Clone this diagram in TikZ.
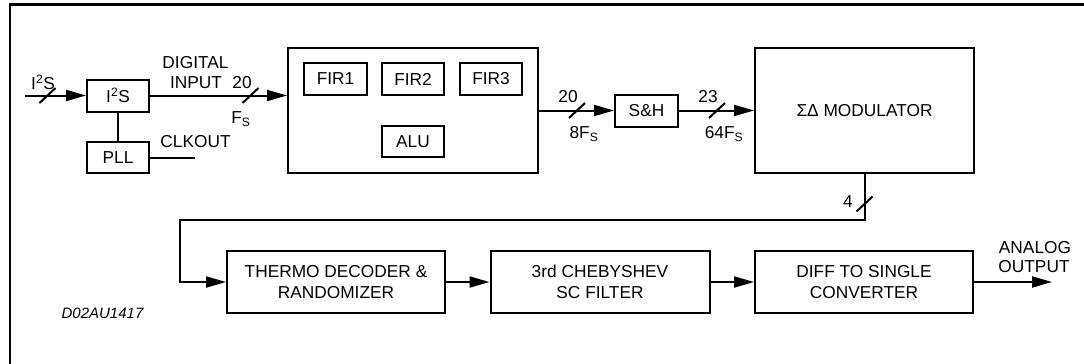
\documentclass[tikz,border=0pt]{standalone}
\usepackage{fontspec}
\setmainfont{Liberation Sans}
\usetikzlibrary{arrows.meta}
\begin{document}
\begin{tikzpicture}[x=1pt,y=-1pt,
  every node/.style={font=\fontsize{17.3}{21}\selectfont, inner sep=0pt},
  blk/.style={draw, line width=2pt, minimum width=#1, align=center},
  conn/.style={line width=2pt},
  arr/.style={conn, -{Triangle[length=20pt,width=11pt]}},
  lbl/.style={anchor=center}
]
\useasboundingbox (0,0) rectangle (1084,364);
% frame (top and left edges only)
\draw[line width=2.5pt] (10,364) -- (10,4.3) -- (1084,4.3);

% top row blocks
\node[blk=62pt, minimum height=32pt] (i2s) at (118,95.5) {I\textsuperscript{2}S};
\node[blk=62pt, minimum height=31pt] (pll) at (118,157.5) {PLL};
\node[blk=250pt, minimum height=125pt] (fir) at (413,110.5) {};
\node[blk=63pt, minimum height=32pt] (fir1) at (335.5,79) {FIR1};
\node[blk=62pt, minimum height=32pt] (fir2) at (413,79) {FIR2};
\node[blk=62pt, minimum height=32pt] (fir3) at (491,79) {FIR3};
\node[blk=62pt, minimum height=31pt] (alu) at (413,141.5) {ALU};
\node[blk=63pt, minimum height=32pt] (sh) at (646.5,110.5) {S\&H};
\node[blk=219pt, minimum height=125pt] (mod) at (864.5,110.5) {ΣΔ MODULATOR};

% bottom row blocks
\node[blk=218pt, minimum height=62pt] (thermo) at (336,282) {THERMO DECODER \&\\RANDOMIZER};
\node[blk=219pt, minimum height=62pt] (cheb) at (600,282) {3rd CHEBYSHEV\\SC FILTER};
\node[blk=218pt, minimum height=62pt] (diff) at (864,282) {DIFF TO SINGLE\\CONVERTER};

% free ends / bends
\coordinate (in) at (25,95.5);
\coordinate (clk) at (195,157.5);
\coordinate (lx) at (180,220);
\coordinate (out) at (1052,282);

% connectors
\draw[arr] (in) -- (i2s.west);
\draw[arr] (i2s.east) -- (i2s.east -| fir.west);
\draw[conn] (i2s.south) -- (pll.north);
\draw[conn] (pll.east) -- (clk);
\draw[arr] (fir.east) -- (sh.west);
\draw[arr] (sh.east) -- (mod.west);
\draw[arr] (mod.south) |- (lx) |- (thermo.west);
\draw[arr] (thermo.east) -- (cheb.west);
\draw[arr] (cheb.east) -- (diff.west);
\draw[arr] (diff.east) -- (out);

% bus slashes
\coordinate (s1) at (47.5,95.5);
\coordinate (s2) at (250.5,95.5);
\coordinate (s3) at (577,110.5);
\coordinate (s4) at (717,110.5);
\coordinate (s5) at (864.5,204);
\foreach \s in {s1,s2,s3,s4,s5}
  \draw[conn] ([shift={(-8,7.5)}]\s) -- ([shift={(8,-7.5)}]\s);

% labels
\node[lbl] (li2s) at (43,82) {I\textsuperscript{2}S};
\node[lbl] (ldig) at (195.5,63) {DIGITAL};
\node[lbl] (linp) at (196,82.5) {INPUT};
\node[lbl] (l20a) at (242,82.5) {20};
\node[lbl] (lfs) at (241,119) {F\textsubscript{S}};
\node[lbl] (lclk) at (195.5,142) {CLKOUT};
\node[lbl] (l20b) at (568,97) {20};
\node[lbl] (l8fs) at (584,134) {8F\textsubscript{S}};
\node[lbl] (l23) at (708,97) {23};
\node[lbl] (l64fs) at (724,134) {64F\textsubscript{S}};
\node[lbl] (l4) at (848,202) {4};
\node[lbl] (lana) at (1035,247.5) {ANALOG};
\node[lbl] (lout) at (1034,267) {OUTPUT};
\node[lbl, font=\fontsize{15}{18}\selectfont\itshape] (lcode) at (102.5,313.5) {D02AU1417};
\end{tikzpicture}
\end{document}
